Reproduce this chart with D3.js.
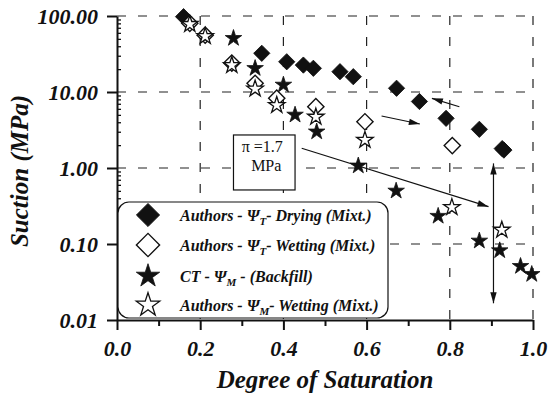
<!DOCTYPE html>
<html>
<head>
<meta charset="utf-8">
<script src="https://cdn.jsdelivr.net/npm/d3@7"></script>
<style>
  body { margin: 0; background: #fff; }
  svg { display: block; }
  svg text { font-family: "Times New Roman", "Liberation Serif", Times, serif !important; }
</style>
</head>
<body>
<svg id="chart" width="548" height="394"></svg>
<script>
// Degree of saturation vs suction (MPa)
const dryingTotal = [
  [0.160, 98], [0.348, 32.3], [0.408, 25.0], [0.448, 22.6], [0.472, 20.5],
  [0.536, 18.5], [0.568, 15.9], [0.672, 11.2], [0.727, 7.5], [0.791, 4.5],
  [0.871, 3.23], [0.926, 1.80], [0.930, 1.72]
];
const wettingTotal = [
  [0.175, 80], [0.212, 56], [0.276, 24], [0.332, 13], [0.384, 8.3],
  [0.478, 6.4], [0.596, 4.06], [0.806, 1.97]
];
const backfillMatric = [
  [0.280, 51], [0.332, 20.5], [0.400, 12.4], [0.428, 5.0], [0.480, 3.0],
  [0.580, 1.07], [0.671, 0.50], [0.772, 0.233], [0.871, 0.110], [0.920, 0.082],
  [0.970, 0.051], [0.997, 0.040]
];
const wettingMatric = [
  [0.175, 78], [0.212, 54], [0.276, 22.5], [0.332, 11], [0.384, 6.7],
  [0.478, 4.7], [0.596, 2.33], [0.805, 0.304], [0.925, 0.153]
];

const xTicks = [0, 0.2, 0.4, 0.6, 0.8, 1.0];
const xTickLabels = ["0.0", "0.2", "0.4", "0.6", "0.8", "1.0"];
const xMinorTicks = [0.1, 0.3, 0.5, 0.7, 0.9];
const yTicks = [0.01, 0.1, 1, 10, 100];
const yTickLabels = ["0.01", "0.10", "1.00", "10.00", "100.00"];

const legendLabels = [
  { pre: "Authors - \u03A8", sub: "T", post: "- Drying (Mixt.)" },
  { pre: "Authors - \u03A8", sub: "T", post: "- Wetting (Mixt.)" },
  { pre: "CT - \u03A8", sub: "M", post: " - (Backfill)" },
  { pre: "Authors - \u03A8", sub: "M", post: "- Wetting (Mixt.)" }
];

const SERIF = "'Times New Roman', 'Liberation Serif', Times, serif";
const svg = d3.select("#chart").attr("font-family", SERIF);
const W = 548, H = 394;
const plot = { left: 117, right: 533, top: 16, bottom: 320 };

const x = d3.scaleLinear().domain([0, 1]).range([plot.left, plot.right]);
const y = d3.scaleLog().domain([0.01, 100]).range([plot.bottom, plot.top]);

svg.append("rect").attr("width", W).attr("height", H).attr("fill", "#fff");

// dashed grid
const grid = svg.append("g").attr("stroke", "#222").attr("stroke-width", 1.2)
  .attr("stroke-dasharray", "9,12").attr("fill", "none");
grid.selectAll("line.v").data(xTicks.slice(1)).join("line")
  .attr("x1", d => x(d)).attr("x2", d => x(d))
  .attr("y1", y(100)).attr("y2", y(0.01));
grid.selectAll("line.h").data(yTicks.slice(1)).join("line")
  .attr("x1", x(0)).attr("x2", x(1))
  .attr("y1", d => y(d)).attr("y2", d => y(d));

// axes
const axisFont = g => {
  g.attr("font-family", SERIF);
  g.selectAll("text")
    .style("font-family", SERIF)
    .attr("font-size", 22).attr("font-weight", "bold").attr("font-style", "italic")
    .attr("fill", "#111");
};

const xAxis = svg.append("g").attr("transform", `translate(0,${plot.bottom})`)
  .call(d3.axisBottom(x).tickValues(xTicks).tickSize(10).tickSizeOuter(0).tickPadding(10)
    .tickFormat((d, i) => xTickLabels[i]));
xAxis.call(axisFont);
xAxis.selectAll("path, line").attr("stroke", "#111").attr("stroke-width", 2);

const xMinor = svg.append("g").attr("transform", `translate(0,${plot.bottom})`)
  .call(d3.axisBottom(x).tickValues(xMinorTicks).tickSize(6).tickFormat(""));
xMinor.select(".domain").remove();
xMinor.selectAll("line").attr("stroke", "#111").attr("stroke-width", 2);

const yAxis = svg.append("g").attr("transform", `translate(${plot.left},0)`)
  .call(d3.axisLeft(y).tickValues(yTicks).tickSize(10).tickSizeOuter(0).tickPadding(9)
    .tickFormat((d, i) => yTickLabels[i]));
yAxis.call(axisFont);
yAxis.selectAll("path, line").attr("stroke", "#111").attr("stroke-width", 2);

const yMinorVals = [];
for (let e = -2; e < 2; e++) for (let m = 2; m <= 9; m++) yMinorVals.push(m * Math.pow(10, e));
const yMinor = svg.append("g").attr("transform", `translate(${plot.left},0)`)
  .call(d3.axisRight(y).tickValues(yMinorVals).tickSize(4).tickFormat(""));
yMinor.select(".domain").remove();
yMinor.selectAll("line").attr("stroke", "#111").attr("stroke-width", 1.3);

// axis titles
svg.append("text")
  .attr("x", (plot.left + plot.right) / 2).attr("y", 388)
  .attr("text-anchor", "middle").attr("font-size", 25)
  .attr("font-weight", "bold").attr("font-style", "italic").attr("fill", "#111")
  .style("font-family", SERIF)
  .text("Degree of Saturation");
svg.append("text")
  .attr("transform", `translate(28,${(plot.top + plot.bottom) / 2 + 3}) rotate(-90)`)
  .attr("text-anchor", "middle").attr("font-size", 25)
  .attr("font-weight", "bold").attr("font-style", "italic").attr("fill", "#111")
  .style("font-family", SERIF)
  .text("Suction (MPa)");

// annotation arrows (in data units)
function arrow(g, p0, p1, both) {
  const x0 = x(p0[0]), y0 = y(p0[1]), x1 = x(p1[0]), y1 = y(p1[1]);
  g.append("line").attr("x1", x0).attr("y1", y0).attr("x2", x1).attr("y2", y1)
    .attr("stroke", "#111").attr("stroke-width", 1.2);
  const head = (tx, ty, fx, fy) => {
    const a = Math.atan2(ty - fy, tx - fx), L = 11, w = 3.2;
    const bx = tx - L * Math.cos(a), by = ty - L * Math.sin(a);
    const nx = -Math.sin(a) * w, ny = Math.cos(a) * w;
    g.append("path")
      .attr("d", `M${tx},${ty}L${bx + nx},${by + ny}L${bx - nx},${by - ny}Z`)
      .attr("fill", "#111");
  };
  head(x1, y1, x0, y0);
  if (both) head(x0, y0, x1, y1);
}
const ann = svg.append("g");
arrow(ann, [0.444, 1.82], [0.893, 0.31]);
arrow(ann, [0.823, 6.4], [0.757, 8.26]);
arrow(ann, [0.636, 4.83], [0.728, 3.79]);
arrow(ann, [0.905, 1.15], [0.905, 0.0166], true);

// osmotic suction note
const noteBox = { x0: 0.28, x1: 0.428, yTop: 2.72, yBot: 0.514 };
svg.append("rect")
  .attr("x", x(noteBox.x0)).attr("y", y(noteBox.yTop))
  .attr("width", x(noteBox.x1) - x(noteBox.x0))
  .attr("height", y(noteBox.yBot) - y(noteBox.yTop))
  .attr("fill", "#fff").attr("stroke", "#111").attr("stroke-width", 1.2);
const noteCx = (x(noteBox.x0) + x(noteBox.x1)) / 2;
svg.append("text").attr("x", noteCx - 2).attr("y", y(noteBox.yTop) + 17)
  .attr("text-anchor", "middle").attr("font-size", 16).attr("fill", "#111")
  .style("font-family", SERIF)
  .text("\u03C0 =1.7");
svg.append("text").attr("x", noteCx + 2).attr("y", y(noteBox.yTop) + 36)
  .attr("text-anchor", "middle").attr("font-size", 16).attr("fill", "#111")
  .style("font-family", SERIF)
  .text("MPa");

// markers
const diamond = d3.symbol().type(d3.symbolSquare);
const star = d3.symbol().type(d3.symbolStar);

function drawSeries(data, gen, size, rot, fill, sw) {
  svg.append("g").selectAll("path").data(data).join("path")
    .attr("transform", d => `translate(${x(d[0])},${y(d[1])}) rotate(${rot})`)
    .attr("d", gen.size(size)())
    .attr("fill", fill).attr("stroke", "#111").attr("stroke-width", sw);
}
drawSeries(dryingTotal, diamond, 132, 45, "#111", 0.8);
drawSeries(wettingTotal, diamond, 132, 45, "#fff", 1.4);
drawSeries(backfillMatric, star, 85, 0, "#111", 0.8);
drawSeries(wettingMatric, star, 85, 0, "#fff", 1.3);

// legend
const lg = svg.append("g");
lg.append("rect").attr("x", 118).attr("y", 202).attr("width", 270).attr("height", 116)
  .attr("rx", 11).attr("fill", "#fff").attr("stroke", "#111").attr("stroke-width", 1.2);
const legendRows = [215, 245, 276, 305];
const legendSyms = [
  { gen: diamond, size: 270, rot: 45, fill: "#111", sw: 0.8 },
  { gen: diamond, size: 270, rot: 45, fill: "#fff", sw: 1.4 },
  { gen: star, size: 170, rot: 0, fill: "#111", sw: 0.8 },
  { gen: star, size: 170, rot: 0, fill: "#fff", sw: 1.3 }
];
legendLabels.forEach((lab, i) => {
  const s = legendSyms[i];
  lg.append("path")
    .attr("transform", `translate(148,${legendRows[i]}) rotate(${s.rot})`)
    .attr("d", s.gen.size(s.size)())
    .attr("fill", s.fill).attr("stroke", "#111").attr("stroke-width", s.sw);
  const t = lg.append("text").attr("x", 180).attr("y", legendRows[i] + 5.5)
    .attr("font-size", 16).attr("font-weight", "bold").attr("font-style", "italic")
    .attr("fill", "#111").style("font-family", SERIF);
  t.append("tspan").text(lab.pre);
  t.append("tspan").attr("dy", 4).attr("font-size", 11).text(lab.sub);
  t.append("tspan").attr("dy", -4).text(lab.post);
});
</script>
</body>
</html>
